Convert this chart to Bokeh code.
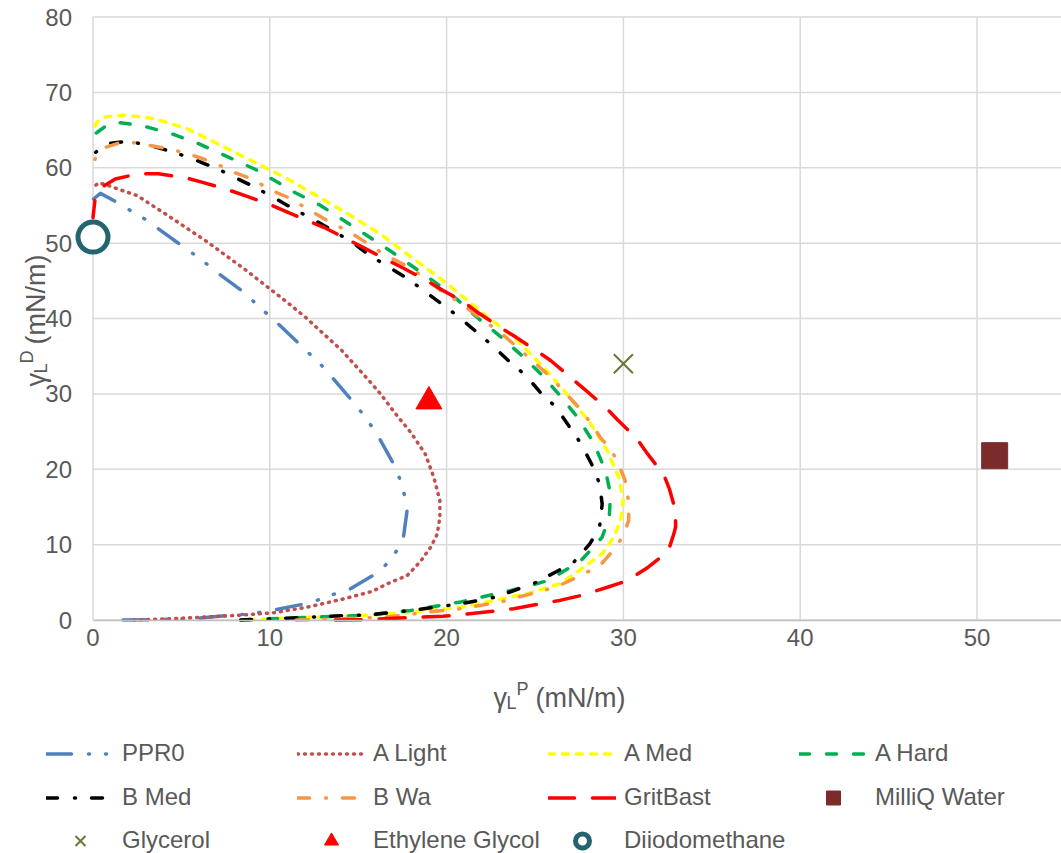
from bokeh.plotting import figure
from bokeh.models import Legend, LegendItem, Label, Range1d, FixedTicker
from bokeh.embed import file_html
from bokeh.resources import INLINE

# Wetting envelopes: polar component (x) and dispersive component (y), mN/m
ppr0_p = [1.7, 3.3, 6.0, 7.7, 8.5, 9.4, 10.2, 11.9, 12.8, 13.6, 14.5, 15.9, 16.6, 17.15, 17.56,
          17.77, 17.6, 17.34, 17.0, 16.2, 15.7, 15.17, 14.62, 13.56, 12.96, 12.3, 11.68, 10.47,
          9.85, 8.46, 7.2, 6.5, 5.78, 5.0, 3.7, 3.0, 2.2, 1.44, 0.42, 0.0]
ppr0_d = [0.0, 0.03, 0.24, 0.6, 0.75, 1.0, 1.3, 2.1, 2.7, 3.4, 4.05, 6.0, 7.4, 9.1, 11.0,
          14.6, 16.7, 18.8, 20.7, 24.1, 25.9, 27.6, 29.2, 32.1, 33.7, 35.2, 36.6, 39.3,
          40.6, 43.6, 45.8, 47.1, 48.4, 49.7, 51.9, 53.1, 54.2, 55.3, 56.6, 55.8]

a_light_p = [2.3, 4.2, 6.0, 8.0, 10.2, 12.1, 14.0, 15.8, 16.64, 17.77, 18.5, 19.1, 19.47, 19.62,
             19.62, 19.28, 18.8, 18.0, 17.1, 16.26, 15.6, 14.05, 13.05, 12.0, 10.9, 8.6, 6.44,
             4.08, 2.5, 1.63, 0.8, 0.33, 0.0]
a_light_d = [0.0, 0.15, 0.35, 0.6, 0.95, 1.7, 2.7, 3.8, 4.8, 5.9, 7.7, 9.65, 11.4, 13.6,
             15.85, 18.9, 22.0, 24.8, 27.4, 30.0, 31.8, 35.8, 37.95, 40.2, 42.3, 46.5, 50.2,
             53.9, 56.3, 57.0, 57.7, 58.0, 57.4]

a_med_p = [8.8, 10.2, 12.0, 14.0, 15.7, 17.96, 20.8, 22.7, 24.56, 26.4, 27.76, 28.8, 29.46,
           29.84, 29.99, 29.74, 29.08, 28.1, 26.8, 25.5, 24.0, 22.1, 20.1, 18.14, 16.26, 14.4,
           12.5, 10.7, 9.17, 7.3, 5.4, 3.5, 1.8, 0.6, 0.2, 0.0]
a_med_d = [0.0, 0.2, 0.35, 0.5, 0.65, 1.03, 1.7, 2.6, 3.5, 4.8, 7.0, 8.8, 11.0,
           13.2, 15.85, 18.9, 22.5, 26.2, 30.0, 33.5, 37.1, 40.6, 44.5, 47.9, 51.2, 53.9,
           56.5, 58.9, 60.7, 62.9, 65.1, 66.5, 67.0, 66.7, 66.0, 64.9]

a_hard_p = [8.35, 10.0, 12.0, 14.0, 15.13, 17.96, 20.8, 23.6, 25.7, 27.0, 27.6, 28.3, 28.8,
            29.2, 29.27, 28.99, 28.3, 27.4, 26.4, 25.35, 24.2, 23.05, 21.8, 20.6, 19.47,
            18.14, 16.8, 15.5, 14.19, 12.87, 11.17, 10.5, 9.17, 7.66, 5.97, 4.46, 2.76,
            1.44, 0.88, 0.12, 0.0]
a_hard_d = [0.0, 0.15, 0.35, 0.5, 0.6, 1.26, 2.4, 3.9, 5.2, 7.0, 7.9, 9.65, 11.0,
            13.6, 16.7, 19.8, 23.6, 26.9, 29.8, 32.6, 35.2, 37.6, 40.0, 42.5, 44.6,
            46.8, 49.0, 51.0, 53.0, 55.0, 57.0, 58.0, 59.8, 61.4, 63.2, 64.5, 65.6,
            66.0, 65.8, 64.5, 62.9]

b_med_p = [8.35, 10.0, 12.0, 14.0, 15.7, 17.96, 20.8, 22.7, 24.9, 26.2, 27.2, 28.1, 28.65,
           28.8, 28.65, 28.2, 27.6, 26.9, 26.2, 25.3, 24.5, 23.5, 22.6, 21.6, 20.7, 19.8,
           18.7, 17.8, 16.6, 15.7, 14.6, 13.4, 12.4, 11.0, 10.1, 9.17, 7.95, 7.1, 5.6,
           4.65, 3.3, 2.0, 0.78, 0.12, 0.0]
b_med_d = [0.0, 0.15, 0.35, 0.55, 0.7, 1.26, 2.15, 3.0, 4.8, 6.4, 7.7, 10.1, 12.3,
           15.4, 18.1, 20.7, 23.4, 25.8, 28.2, 30.2, 32.4, 34.4, 36.4, 38.4, 40.2, 41.8,
           43.7, 45.3, 47.0, 48.3, 50.2, 51.9, 53.2, 55.0, 56.2, 57.4, 58.8, 59.8, 61.2,
           62.0, 62.9, 63.5, 63.2, 62.0, 61.4]

b_wa_p = [11.5, 13.0, 15.0, 16.6, 18.9, 20.8, 23.05, 24.0, 25.5, 26.4, 27.76, 28.7, 29.08,
          29.7, 30.1, 30.3, 30.3, 30.1, 29.65, 29.2, 28.7, 28.2, 27.4, 26.6, 25.9, 24.75,
          23.8, 22.9, 21.8, 20.9, 19.66, 18.9, 17.56, 16.6, 15.3, 14.56, 13.24, 12.3, 11.0,
          10.1, 8.98, 7.85, 7.0, 5.97, 4.65, 3.14, 2.39, 1.63, 0.69, 0.12, 0.0]
b_wa_d = [0.0, 0.1, 0.25, 0.4, 1.03, 1.5, 2.4, 3.0, 3.9, 4.6, 6.1, 7.3, 8.3,
          10.0, 11.9, 13.2, 15.6, 18.5, 21.15, 22.9, 24.2, 26.0, 28.4, 30.4, 32.2, 34.6,
          36.6, 38.4, 40.2, 41.9, 43.7, 45.25, 47.2, 48.3, 50.3, 51.4, 53.0, 54.3, 56.1,
          57.0, 58.5, 59.5, 60.5, 61.4, 62.3, 63.0, 63.3, 63.4, 62.7, 61.2, 59.4]

gritbast_p = [13.7, 15.3, 17.8, 19.8, 20.8, 22.7, 23.8, 25.3, 26.4, 27.6, 29.1, 30.2, 31.4,
              32.1, 32.57, 32.85, 32.95, 32.95, 32.6, 32.3, 31.35, 30.75, 29.65, 29.0, 27.76,
              27.1, 25.9, 25.1, 23.8, 23.05, 21.7, 20.97, 19.66, 18.9, 17.46, 16.6, 15.3,
              14.56, 13.05, 12.2, 10.8, 9.93, 8.6, 7.48, 6.15, 5.2, 3.7, 2.57, 1.26, 0.5,
              0.12, 0.0]
gritbast_d = [0.0, 0.03, 0.3, 0.5, 0.7, 1.17, 1.5, 2.15, 2.6, 3.25, 4.35, 5.2, 7.0,
              8.3, 9.4, 11.4, 12.3, 14.5, 17.4, 19.2, 22.1, 24.1, 26.6, 28.2, 30.7,
              32.0, 34.4, 35.7, 37.7, 38.8, 40.9, 42.2, 43.9, 45.0, 46.8, 47.8, 49.4,
              50.3, 52.1, 52.9, 54.3, 55.2, 56.3, 57.2, 58.1, 58.7, 59.2, 59.2, 58.5, 57.4,
              55.9, 53.4]

# Probe liquids: polar and dispersive surface tension components, mN/m
liquid_names = ["MilliQ Water", "Glycerol", "Ethylene Glycol", "Diiodomethane"]
liquid_polar = [51.0, 30.0, 19.0, 0.0]
liquid_disp = [21.8, 34.0, 29.0, 50.8]

x_ticks = [0, 10, 20, 30, 40, 50]
y_ticks = [0, 10, 20, 30, 40, 50, 60, 70, 80]

FONT = "Liberation Sans"
TEXT = "#595959"
GRID = "#D9D9D9"

W, H = 1061, 853
# plot area: x = 0 sits 92.5 px from the left, y = 0 sits 619.5 px from the top
PX_PER_X = 17.68
PX_PER_Y = 603 / 80
X0_PX, Y0_PX = 92.5, 619.5
x_start = -X0_PX / PX_PER_X
x_end = x_start + W / PX_PER_X
y_end = Y0_PX / PX_PER_Y
y_start = y_end - H / PX_PER_Y

# the frame spans the whole canvas; axes are pinned at the data origin
p = figure(frame_width=W, frame_height=H,
           min_border_left=0, min_border_right=0, min_border_top=0, min_border_bottom=0,
           x_range=Range1d(x_start, x_end), y_range=Range1d(y_start, y_end),
           output_backend="svg", toolbar_location=None)
p.outline_line_color = None
p.background_fill_color = "white"
p.border_fill_color = "white"
p.xgrid.visible = False
p.ygrid.visible = False

p.xaxis.fixed_location = 0
p.yaxis.fixed_location = 0
p.xaxis.bounds = (0, x_end)
p.yaxis.bounds = (0, 80)
p.xaxis.ticker = FixedTicker(ticks=x_ticks)
p.yaxis.ticker = FixedTicker(ticks=y_ticks)
for ax in (p.xaxis, p.yaxis):
    ax.major_tick_line_color = None
    ax.minor_tick_line_color = None
    ax.major_tick_out = 0
    ax.major_tick_in = 0
    ax.minor_tick_out = 0
    ax.minor_tick_in = 0
    ax.major_label_text_font = FONT
    ax.major_label_text_font_size = "24px"
    ax.major_label_text_color = TEXT
p.xaxis.axis_line_color = "#BFBFBF"
p.xaxis.axis_line_width = 1.5
p.yaxis.axis_line_color = None
p.xaxis.major_label_standoff = 9
p.yaxis.major_label_standoff = 21

# gridlines over the plot area
p.segment(x0=x_ticks, y0=[0] * len(x_ticks), x1=x_ticks, y1=[80] * len(x_ticks),
          line_color=GRID, line_width=1.5)
p.segment(x0=[0] * len(y_ticks), y0=y_ticks, x1=[x_end] * len(y_ticks), y1=y_ticks,
          line_color=GRID, line_width=1.5)

series = [
    ("PPR0", ppr0_p, ppr0_d, "#4F81BD", "25 17 1 16 1 17"),
    ("A Light", a_light_p, a_light_d, "#C0504D", "1 6"),
    ("A Med", a_med_p, a_med_d, "#FFFF00", "6 8"),
    ("A Hard", a_hard_p, a_hard_d, "#00B050", "10 17"),
    ("B Med", b_med_p, b_med_d, "#000000", "11 17 1 16"),
    ("B Wa", b_wa_p, b_wa_d, "#F79646", "12 16 1 16"),
    ("GritBast", gritbast_p, gritbast_d, "#FF0000", "26 18"),
]

items = []
for name, xs, ys, color, dash in series:
    r = p.line(xs, ys, line_color=color, line_width=3.5, line_dash=dash,
               line_cap="round", line_join="round")
    items.append(LegendItem(label=name, renderers=[r]))

marker_styles = {
    "MilliQ Water": dict(marker="square", size=26, fill_color="#7B2C2A", line_color="#7B2C2A", line_width=1),
    "Glycerol": dict(marker="x", size=27, fill_color=None, line_color="#66783A", line_width=2),
    "Ethylene Glycol": dict(marker="triangle", size=26, fill_color="#FF0000", line_color="#FF0000", line_width=1),
    "Diiodomethane": dict(marker="circle", size=30, fill_color="white", line_color="#23646F", line_width=5),
}
for name, xp, yd in zip(liquid_names, liquid_polar, liquid_disp):
    r = p.scatter([xp], [yd], **marker_styles[name])
    items.append(LegendItem(label=name, renderers=[r]))

# Legend: three rows of four columns below the plot area
rows = [items[0:4], items[4:8], items[8:11]]
row_centers = [753, 797, 840]  # px from the top of the canvas
GLYPH_H = 35
for row, cy in zip(rows, row_centers):
    leg = Legend(items=row, location=(46, H - (cy + GLYPH_H / 2)), orientation="horizontal",
                 glyph_width=68, glyph_height=GLYPH_H, label_standoff=8, label_width=170,
                 spacing=5, padding=0, margin=0, border_line_color=None,
                 background_fill_alpha=0, label_text_font=FONT,
                 label_text_font_size="24px", label_text_color=TEXT)
    p.add_layout(leg)


def add_text(text, sx, sy, size, angle=0):
    # sx, sy in px from the top-left corner of the canvas
    p.add_layout(Label(x=sx, y=H - sy, x_units="screen", y_units="screen", text=text,
                       text_font=FONT, text_font_size=size, text_color=TEXT,
                       text_align="left", text_baseline="alphabetic",
                       angle=angle, angle_units="deg"))


# x-axis title: gamma_L^P (mN/m)
add_text("γ", 493, 697, "27px")
add_text("L", 506, 702, "18px")
add_text("P", 516, 688, "18px")
add_text("(mN/m)", 535, 697, "27px")

# y-axis title: gamma_L^D (mN/m), reading upwards
add_text("γ", 35, 386, "27px", 90)
add_text("L", 40, 373, "18px", 90)
add_text("D", 26, 363, "18px", 90)
add_text("(mN/m)", 35, 344, "27px", 90)

open("out.html", "w").write(file_html(p, INLINE))
